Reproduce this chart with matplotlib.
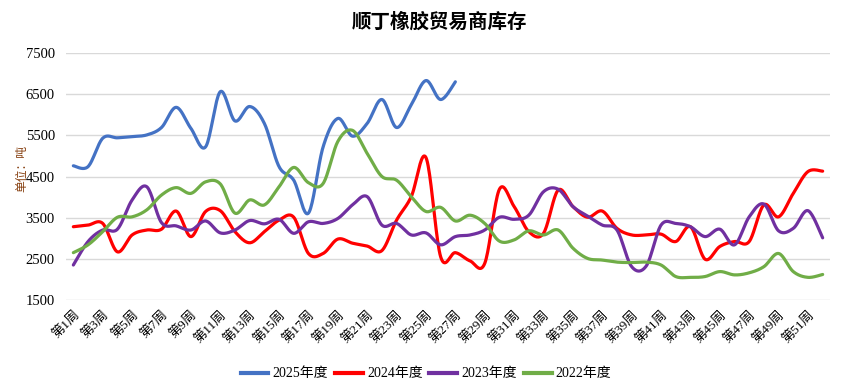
import numpy as np
import matplotlib
matplotlib.use("Agg")
import matplotlib.pyplot as plt
from matplotlib.lines import Line2D

plt.rcParams['font.family'] = ['Liberation Serif', 'Noto Sans CJK SC', 'DejaVu Sans']

weeks = list(range(1, 53))
week_labels = [f"第{w}周" for w in weeks]

s2025 = [4760, 4740, 5430, 5440, 5470, 5510, 5690, 6180, 5670, 5220,
         6560, 5850, 6200, 5790, 4740, 4410, 3610, 5220, 5910, 5480,
         5790, 6370, 5690, 6240, 6830, 6370, 6800]
s2024 = [3280, 3320, 3360, 2670, 3080, 3200, 3220, 3660, 3040, 3650,
         3670, 3160, 2890, 3160, 3440, 3510, 2630, 2630, 2980, 2880,
         2810, 2700, 3440, 4010, 4960, 2550, 2650, 2450, 2390, 4190,
         3770, 3160, 3120, 4170, 3770, 3510, 3660, 3240, 3080, 3080,
         3100, 2920, 3280, 2490, 2800, 2920, 2920, 3810, 3520, 4090,
         4620, 4630]
s2023 = [2350, 2920, 3200, 3220, 3930, 4250, 3380, 3300, 3200, 3420,
         3130, 3200, 3430, 3350, 3460, 3120, 3400, 3360, 3480, 3810,
         4010, 3320, 3360, 3080, 3130, 2840, 3040, 3080, 3200, 3510,
         3460, 3560, 4130, 4190, 3770, 3540, 3320, 3200, 2310, 2330,
         3320, 3360, 3280, 3040, 3220, 2840, 3520, 3830, 3180, 3240,
         3670, 3010]
s2022 = [2650, 2840, 3160, 3510, 3520, 3690, 4050, 4230, 4090, 4370,
         4320, 3610, 3930, 3810, 4250, 4720, 4350, 4330, 5350, 5620,
         5060, 4500, 4410, 4010, 3650, 3750, 3420, 3560, 3360, 2930,
         2960, 3180, 3080, 3200, 2760, 2510, 2470, 2420, 2410, 2420,
         2350, 2070, 2050, 2070, 2190, 2110, 2160, 2310, 2630, 2190,
         2050, 2120]

series_names = ["2025年度", "2024年度", "2023年度", "2022年度"]
series_vals = [s2025, s2024, s2023, s2022]
colors = ["#4472C4", "#FF0000", "#7030A0", "#70AD47"]
yticks = [1500, 2500, 3500, 4500, 5500, 6500, 7500]


def smooth(x, y, n=20):
    x = np.asarray(x, float)
    y = np.asarray(y, float)
    px = np.concatenate([[x[0]], x, [x[-1]]])
    py = np.concatenate([[y[0]], y, [y[-1]]])
    ox, oy = [], []
    for i in range(1, len(px) - 2):
        p0 = np.array([px[i - 1], py[i - 1]])
        p1 = np.array([px[i], py[i]])
        p2 = np.array([px[i + 1], py[i + 1]])
        p3 = np.array([px[i + 2], py[i + 2]])
        c1 = p1 + (p2 - p0) / 6.0
        c2 = p2 - (p3 - p1) / 6.0
        t = np.linspace(0, 1, n, endpoint=False)[:, None]
        b = ((1 - t) ** 3) * p1 + 3 * ((1 - t) ** 2) * t * c1 + 3 * (1 - t) * t ** 2 * c2 + t ** 3 * p2
        ox.extend(b[:, 0])
        oy.extend(b[:, 1])
    ox.append(x[-1])
    oy.append(y[-1])
    return np.array(ox), np.array(oy)


fig = plt.figure(figsize=(8.45, 3.88), dpi=100)
ax = fig.add_axes([66 / 845, 1 - 300 / 388, 764 / 845, 247 / 388])

for name, vals, c in zip(series_names, series_vals, colors):
    xs, ys = smooth(weeks[:len(vals)], vals)
    ax.plot(xs, ys, color=c, lw=2.3, solid_capstyle='round', label=name)

ax.set_xlim(0.5, 52.5)
ax.set_ylim(1500, 7500)
ax.set_yticks(yticks)
ax.set_yticklabels([str(v) for v in yticks], fontsize=10.5)
ax.set_xticks(weeks[::2])
ax.set_xticklabels(week_labels[::2], rotation=45, ha='right', va='top',
                   rotation_mode='anchor', fontsize=9.5)
ax.tick_params(axis='both', length=0)
ax.tick_params(axis='x', pad=6)
ax.tick_params(axis='y', pad=8)
ax.grid(axis='y', color='#D9D9D9', lw=1)
ax.set_axisbelow(True)
for sp in ax.spines.values():
    sp.set_visible(False)

fig.text(22 / 845, 1 - 168 / 388, "单位：吨", rotation=90, ha='center', va='center',
         fontsize=8.5, color='#843C0C', family=['Noto Sans CJK SC'])
fig.text(440 / 845, 1 - 22 / 388, "顺丁橡胶贸易商库存", ha='center', va='center',
         fontsize=14, fontweight='bold', family=['Noto Sans CJK SC'])

handles = [Line2D([0], [0], color=c, lw=3) for c in colors]
fig.legend(handles, series_names, loc='center', bbox_to_anchor=(426 / 845, 1 - 374 / 388),
           ncol=4, frameon=False, fontsize=10, handlelength=2.0, handletextpad=0.3,
           columnspacing=0.5)

fig.savefig("out.png", dpi=100)
